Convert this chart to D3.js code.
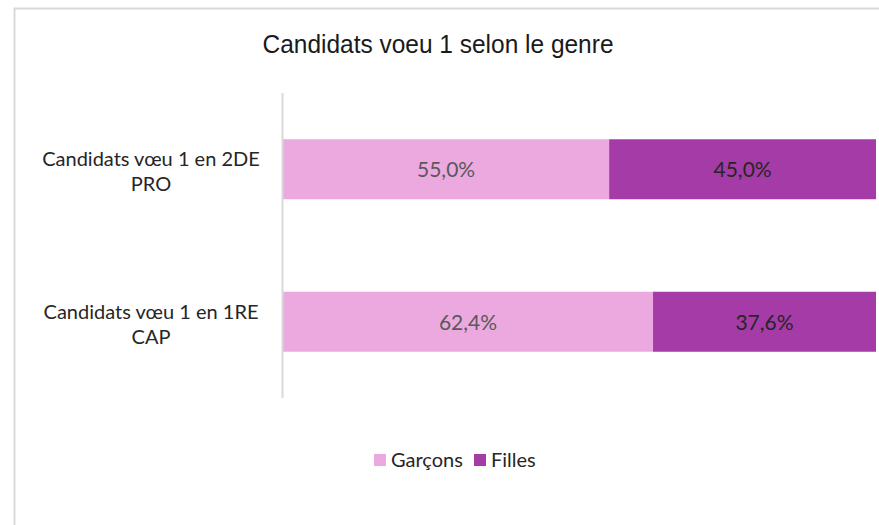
<!DOCTYPE html>
<html lang="fr">
<head>
<meta charset="UTF-8">
<title>Candidats voeu 1 selon le genre</title>
<script src="https://d3js.org/d3.v7.min.js"></script>
<style>
    body { margin: 0; background: #fff; }
    svg { display: block; }
</style>
</head>
<body>
<div id="chart"></div>
<script>
    const categories = ["Candidats vœu 1 en 2DE PRO", "Candidats vœu 1 en 1RE CAP"];
    const catLines = [["Candidats vœu 1 en 2DE", "PRO"], ["Candidats vœu 1 en 1RE", "CAP"]];
    const series = ["Garçons", "Filles"];
    const garcons = [55.0, 62.4];
    const filles = [45.0, 37.6];
    const colors = ["#eba9e0", "#a43ba6"];

    const W = 879, H = 525;
    const svg = d3.select("#chart").append("svg").attr("width", W).attr("height", H);

    // cadre du graphique
    svg.append("rect")
        .attr("x", 14.5).attr("y", 8.5)
        .attr("width", 900).attr("height", 600)
        .attr("fill", "#fff").attr("stroke", "#d9d9d9").attr("stroke-width", 2);

    svg.append("text")
        .attr("x", 438).attr("y", 53)
        .attr("text-anchor", "middle")
        .style("font-family", "'Liberation Sans', Arial, sans-serif")
        .style("font-size", "25.5px")
        .attr("textLength", 351)
        .attr("lengthAdjust", "spacingAndGlyphs")
        .attr("fill", "#1a1a1a")
        .text("Candidats voeu 1 selon le genre");

    const x = d3.scaleLinear().domain([0, 100]).range([283, 876]);
    const y = d3.scaleBand().domain(categories).range([93, 398]).paddingInner(0.5).paddingOuter(0.25);
    const barH = 60;
    const yc = d => y(d) + y.bandwidth() / 2;

    const data = categories.map((c, i) => ({ cat: c, vals: [garcons[i], filles[i]] }));
    const stack = d3.stack().keys([0, 1]).value((d, k) => d.vals[k])(data);

    stack.forEach((layer, k) => {
        svg.selectAll(".bar" + k)
            .data(layer)
            .enter().append("rect")
            .attr("x", d => x(d[0]))
            .attr("y", d => yc(d.data.cat) - barH / 2)
            .attr("width", d => x(d[1]) - x(d[0]))
            .attr("height", barH)
            .attr("fill", colors[k]);

        svg.selectAll(".lab" + k)
            .data(layer)
            .enter().append("text")
            .attr("x", d => (x(d[0]) + x(d[1])) / 2)
            .attr("y", d => yc(d.data.cat) + 8)
            .attr("text-anchor", "middle")
            .style("font-family", "Lato, 'Open Sans', sans-serif")
            .style("font-size", "21px")
            .attr("fill", k === 0 ? "#595959" : "#262626")
            .text(d => d3.format(".1f")(d[1] - d[0]).replace(".", ",") + "%");
    });

    // axe vertical
    svg.append("line")
        .attr("x1", x(0) - 0.5).attr("x2", x(0) - 0.5)
        .attr("y1", 93).attr("y2", 398)
        .attr("stroke", "#d9d9d9").attr("stroke-width", 2);

    // libellés des catégories
    categories.forEach((c, i) => {
        const t = svg.append("text")
            .attr("text-anchor", "middle")
            .style("font-family", "Lato, 'Open Sans', sans-serif")
            .style("font-size", "20px")
            .attr("fill", "#262626");
        catLines[i].forEach((ln, j) => {
            t.append("tspan").attr("x", 151).attr("y", yc(c) - 3 + j * 25).text(ln);
        });
    });

    // légende
    const leg = svg.append("g");
    const items = [{ name: series[0], x: 374 }, { name: series[1], x: 474 }];
    items.forEach((it, k) => {
        leg.append("rect").attr("x", it.x).attr("y", 454).attr("width", 12).attr("height", 12).attr("fill", colors[k]);
        leg.append("text").attr("x", it.x + 17).attr("y", 467)
            .style("font-family", "Lato, 'Open Sans', sans-serif")
            .style("font-size", "20px")
            .attr("fill", "#262626")
            .text(it.name);
    });
</script>
</body>
</html>
